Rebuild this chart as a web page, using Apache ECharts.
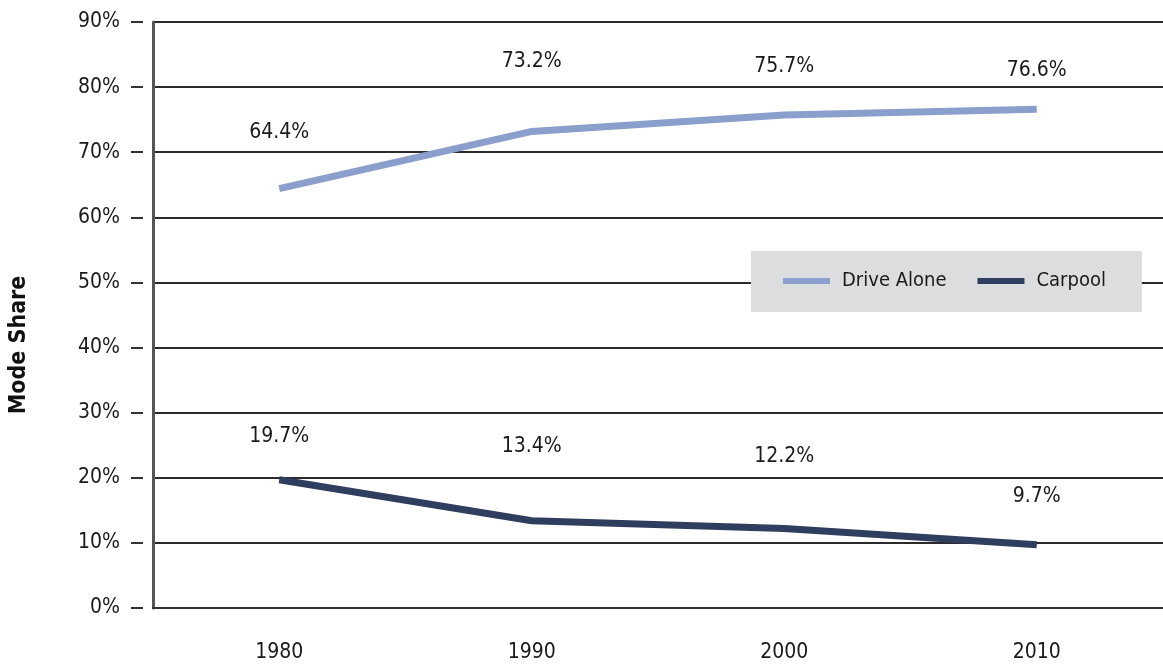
<!DOCTYPE html>
<html>
<head>
<meta charset="utf-8">
<script src="https://cdn.jsdelivr.net/npm/echarts@6/dist/echarts.min.js"></script>
<style>
html,body{margin:0;padding:0;background:#fff;}
#chart{width:1163px;height:670px;}
</style>
</head>
<body>
<div id="chart"></div>
<script>
const categories = ['1980', '1990', '2000', '2010'];
const driveAlone = [64.4, 73.2, 75.7, 76.6];
const carpool = [19.7, 13.4, 12.2, 9.7];
const yTicks = [0, 10, 20, 30, 40, 50, 60, 70, 80, 90];

const FONT = '"DejaVu Sans", sans-serif';
const W = 'condensed';
const WB = 'bold condensed';
const TEXT = '#1a1a1a';

// label vertical offsets (style only)
const driveOffsets = [-56, -70, -49, -39];
const carOffsets = [-43, -74, -72, -48];

function withLabels(vals, offs) {
  return vals.map((v, i) => ({ value: v, label: { offset: [0, offs[i]] } }));
}

const chart = echarts.init(document.getElementById('chart'));
chart.setOption({
  animation: false,
  backgroundColor: '#ffffff',
  grid: { left: 153, right: -4, top: 22, bottom: 62 },
  legend: {
    left: 751, top: 251,
    backgroundColor: '#dcdddf',
    padding: [20, 36, 21, 32],
    itemWidth: 47, itemHeight: 6, itemGap: 31,
    textStyle: { fontFamily: FONT, fontWeight: W, fontSize: 20, color: TEXT, padding: [0, 0, 0, 7] },
    data: [
      { name: 'Drive Alone', icon: 'rect' },
      { name: 'Carpool', icon: 'rect' }
    ]
  },
  graphic: [{
    type: 'text', x: 19, y: 345, rotation: Math.PI / 2,
    style: { text: 'Mode Share', fontFamily: FONT, fontWeight: WB, fontSize: 23, fill: '#111', textAlign: 'center', textVerticalAlign: 'middle' }
  }],
  xAxis: {
    type: 'category',
    data: categories,
    boundaryGap: true,
    axisLine: { lineStyle: { color: '#333', width: 2 } },
    axisTick: { alignWithLabel: true, length: 12, lineStyle: { color: '#333', width: 2 } },
    axisLabel: { fontFamily: FONT, fontWeight: W, fontSize: 21, color: TEXT, margin: 34 }
  },
  yAxis: [
    {
      type: 'value', min: 0, max: 90, interval: 10,
      position: 'left', offset: 10,
      axisLine: { show: false },
      axisTick: { show: true, length: 12, lineStyle: { color: '#333', width: 2 } },
      axisLabel: { fontFamily: FONT, fontWeight: W, fontSize: 21, color: TEXT, margin: 23, formatter: v => v + '%' },
      splitLine: { show: true, lineStyle: { color: '#2b2b2b', width: 2 } }
    },
    {
      type: 'value', min: 0, max: 90, interval: 10,
      position: 'left', offset: 0,
      axisLine: { show: true, lineStyle: { color: '#555', width: 3 } },
      axisTick: { show: false }, axisLabel: { show: false }, splitLine: { show: false }
    }
  ],
  series: [
    {
      name: 'Drive Alone', type: 'line', yAxisIndex: 0,
      data: withLabels(driveAlone, driveOffsets),
      symbol: 'circle', symbolSize: 1, showSymbol: true, smooth: false,
      lineStyle: { color: '#8a9fcb', width: 7, cap: 'butt' },
      itemStyle: { color: '#8a9fcb' },
      label: { show: true, position: 'inside', fontFamily: FONT, fontWeight: W, fontSize: 21, color: TEXT, formatter: p => p.value + '%' },
      z: 3
    },
    {
      name: 'Carpool', type: 'line', yAxisIndex: 0,
      data: withLabels(carpool, carOffsets),
      symbol: 'circle', symbolSize: 1, showSymbol: true, smooth: false,
      lineStyle: { color: '#2f3d5e', width: 7, cap: 'butt' },
      itemStyle: { color: '#2f3d5e' },
      label: { show: true, position: 'inside', fontFamily: FONT, fontWeight: W, fontSize: 21, color: TEXT, formatter: p => p.value + '%' },
      z: 3
    }
  ]
});
</script>
</body>
</html>
